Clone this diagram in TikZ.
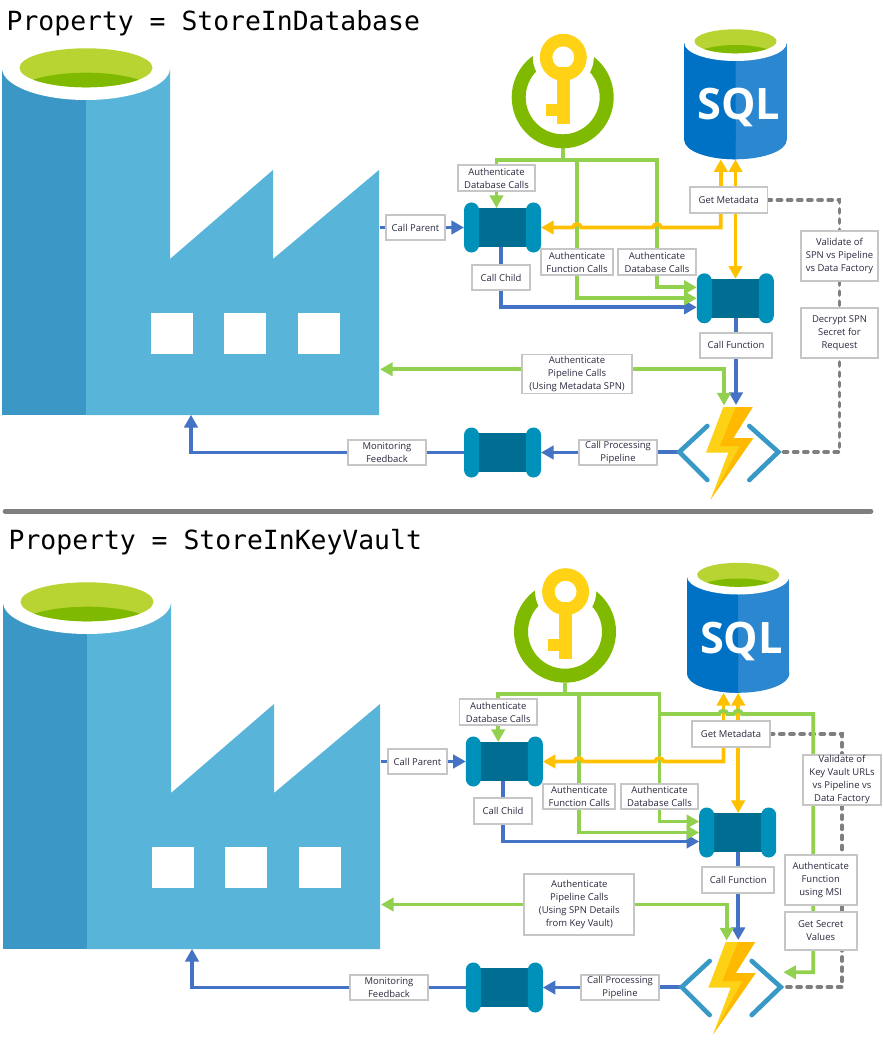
\documentclass[tikz,border=0pt]{standalone}
\usepackage{fontspec}
\usepackage{xcolor}
\setmainfont{Open Sans}
\newfontfamily\headfont{DejaVu Sans Mono}
\usetikzlibrary{arrows.meta, calc, backgrounds}
\definecolor{FactoryDark}{HTML}{3A97C6}
\definecolor{FactoryLight}{HTML}{59B4D9}
\definecolor{LeafDark}{HTML}{7FBA00}
\definecolor{LeafLight}{HTML}{B8D432}
\definecolor{KeyYellow}{HTML}{FFD216}
\definecolor{SqlDark}{HTML}{0072C6}
\definecolor{SqlLight}{HTML}{2B88D0}
\definecolor{PipeCap}{HTML}{0091BB}
\definecolor{PipeCore}{HTML}{006E92}
\definecolor{BoltLight}{HTML}{FCD116}
\definecolor{BoltDark}{HTML}{FFB900}
\definecolor{BracketBlue}{HTML}{3999C6}
\definecolor{LineGreen}{HTML}{92D050}
\definecolor{LineBlue}{HTML}{4472C4}
\definecolor{LineOrange}{HTML}{FFC000}
\definecolor{LineGray}{HTML}{7F7F7F}
\definecolor{LabelEdge}{HTML}{C6C6C6}
\definecolor{LabelText}{HTML}{2A2A40}
\tikzset{
    % Text boxes sitting on the connectors
    labelbox/.style={
        rectangle,
        draw=LabelEdge,
        fill=white,
        line width=1.3pt,
        inner sep=0pt,
        outer sep=0pt,
        minimum width=58pt,
        minimum height=19pt,
        align=center,
        text=LabelText,
        font=\fontsize{7.1}{9.75}\selectfont
    },
    label small/.style={labelbox, minimum width=44pt},
    label medium/.style={labelbox, minimum width=54pt},
    iconbox/.style={inner sep=0pt, outer sep=0pt},
    heading/.style={anchor=base west, font=\headfont\fontsize{19.8}{24}\selectfont},
    arrow blue/.style={-{Triangle[length=9.5pt,width=10pt]}, line width=2.8pt, LineBlue},
    arrow green/.style={-{Triangle[length=9.5pt,width=10pt]}, line width=2.8pt, LineGreen},
    arrow orange/.style={-{Triangle[length=9.5pt,width=10pt]}, line width=2.8pt, LineOrange},
    line blue/.style={line width=2.8pt, LineBlue},
    line green/.style={line width=2.8pt, LineGreen},
    line gray/.style={line width=2.8pt, LineGray, line cap=round, dash pattern=on 3pt off 4.6pt},
    % Icons
    factory/.pic={
        \node[iconbox, minimum width=283.5pt, minimum height=275pt] (-box) at (191,231.5) {};
        \fill[FactoryLight] (86,68) -- (170,68) -- (170,259) -- (273,170) -- (273,259)
            -- (379,170) -- (379,415) -- (86,415) -- cycle;
        \fill[FactoryDark] (2.3,68) rectangle (86,415);
        \fill[white] (86,68) ellipse[x radius=84, y radius=32];
        \fill[LeafLight] (86,67.8) ellipse[x radius=66.5, y radius=19.5];
        \begin{scope}
            \clip (86,67.8) ellipse[x radius=66.5, y radius=19.5];
            \fill[LeafDark] (86,96.7) ellipse[x radius=75, y radius=24];
        \end{scope}
        \foreach \winx in {151,224,298}
            \fill[white] (\winx,313) rectangle ++(42,41);
    },
    keyvault/.pic={
        \node[iconbox, minimum size=76.5pt] (-box) at (0,0) {};
        \fill[LeafDark, even odd rule] (0,0) circle[radius=51] (0,0) circle[radius=37];
        \fill[white] (0.6,-40) circle[radius=30.5];
        \fill[KeyYellow] (-6,-30) rectangle (7.3,27);
        \fill[KeyYellow] (-16.7,7) rectangle (-6,19);
        \fill[KeyYellow, even odd rule] (0.6,-40) circle[radius=23.5] (0.6,-40) circle[radius=11];
    },
    sqldb/.pic={
        \node[iconbox, minimum width=76.8pt, minimum height=89pt] (-box) at (0,0) {};
        \fill[SqlLight] (-51.2,-57) rectangle (51.2,40);
        \fill[SqlLight] (0,40) ellipse[x radius=51.2, y radius=19.3];
        \begin{scope}
            \clip (-60,-70) rectangle (0,70);
            \fill[SqlDark] (-51.2,-57) rectangle (51.2,40);
            \fill[SqlDark] (0,40) ellipse[x radius=51.2, y radius=19.3];
        \end{scope}
        \fill[white] (0,-57) ellipse[x radius=51.2, y radius=18];
        \fill[LeafLight] (0,-58.7) ellipse[x radius=41, y radius=12];
        \begin{scope}
            \clip (0,-58.7) ellipse[x radius=41, y radius=12];
            \fill[LeafDark] (0,-40) ellipse[x radius=46, y radius=15];
        \end{scope}
        \node[iconbox, anchor=base, text=white, font=\fontsize{32.5}{34}\selectfont\bfseries] (-name) at (3.3,20) {SQL};
    },
    pipe/.pic={
        \node[iconbox, minimum width=57.75pt, minimum height=37.5pt] (-box) at (0,0) {};
        \node[iconbox, fill=PipeCore, minimum width=40pt, minimum height=29.25pt] (-core) at (0,0) {};
        \fill[PipeCap, rounded corners=5.6pt] (-38.5,-25) rectangle (-23.5,25);
        \fill[PipeCap, rounded corners=5.6pt] (23.5,-25) rectangle (38.5,25);
    },
    funcapp/.pic={
        \node[iconbox, minimum width=74.25pt, minimum height=70.5pt] (-box) at (0,0) {};
        \draw[BracketBlue, line width=3.5pt, line cap=round, line join=miter] (-21.5,-26) -- (-49.5,0) -- (-21.5,28);
        \draw[BracketBlue, line width=3.5pt, line cap=round, line join=miter] (20.5,-26) -- (49.5,0) -- (20.5,28);
        \fill[BoltLight] (-5.5,-45) -- (23.9,-45) -- (4.5,-14) -- (24.5,-14) -- (-18.1,47.3) -- (-0.5,0.6) -- (-22.8,0.6) -- cycle;
        \fill[BoltDark] (6.9,-45) -- (23.9,-45) -- (4.5,-14) -- (24.5,-14) -- (-18.1,47.3) -- (11.2,-6) -- (-8.8,-6) -- cycle;
    }
}
\begin{document}
\begin{tikzpicture}[x=0.75pt, y=-0.75pt]
    \useasboundingbox (0,0) rectangle (882,1041);

    % Headings and divider
    \node[heading] (titleA) at (2,30.7) {Property = StoreInDatabase};
    \node[heading] (titleB) at (4,549.3) {Property = StoreInKeyVault};
    \coordinate (dividerL) at (5,511.3);
    \coordinate (dividerR) at (871,511.3);
    \draw[LineGray, line width=3.5pt, line cap=round] (dividerL) -- (dividerR);

    % Upper panel: icons
    \pic (factoryA) at (0,0) {factory};
    \pic (kvA) at (562.7,97.3) {keyvault};
    \pic (sqlA) at (735.5,100) {sqldb};
    \pic (parentpipeA) at (502.5,227.5) {pipe};
    \pic (childpipeA) at (735.3,298.3) {pipe};
    \pic (procpipeA) at (502.5,452.5) {pipe};
    \pic (funcA) at (728.8,452) {funcapp};

    % Upper panel: labels
    \node[labelbox] (authdbA) at (496.5,178) {Authenticate\\Database Calls};
    \node[label small] (parentA) at (415.5,227.5) {Call Parent};
    \node[labelbox] (metaA) at (728.7,200) {Get Metadata};
    \node[labelbox, minimum height=37.5pt] (validA) at (839.5,256) {Validate of\\SPN vs Pipeline\\vs Data Factory};
    \node[label medium] (authfnA) at (577,262) {Authenticate\\Function Calls};
    \node[labelbox] (authdbbA) at (657,262) {Authenticate\\Database Calls};
    \node[label small] (childA) at (501,277.5) {Call Child};
    \node[labelbox, minimum height=37.5pt] (decryptA) at (839.5,333) {Decrypt SPN\\Secret for\\Request};
    \node[label medium] (callfnA) at (736,345.3) {Call Function};
    \node[labelbox, minimum width=82.5pt, minimum height=29.25pt] (authpipeA) at (577,374) {Authenticate\\Pipeline Calls\\(Using Metadata SPN)};
    \node[labelbox] (procA) at (618,452.5) {Call Processing\\Pipeline};
    \node[labelbox] (monitorA) at (387,452.5) {Monitoring\\Feedback};

    % Lower panel: icons
    \pic (factoryB) at (1,534) {factory};
    \pic (kvB) at (565,631.7) {keyvault};
    \pic (sqlB) at (738.2,633.5) {sqldb};
    \pic (parentpipeB) at (504.3,761.5) {pipe};
    \pic (childpipeB) at (737.7,832.5) {pipe};
    \pic (procpipeB) at (504.3,987.5) {pipe};
    \pic (funcB) at (731.2,987) {funcapp};

    % Lower panel: labels
    \node[labelbox] (authdbB) at (498.2,712) {Authenticate\\Database Calls};
    \node[label small] (parentB) at (417.5,761.5) {Call Parent};
    \node[labelbox] (metaB) at (731,734) {Get Metadata};
    \node[labelbox, minimum height=37.5pt] (validB) at (842,780) {Validate of\\Key Vault URLs\\vs Pipeline vs\\Data Factory};
    \node[label medium] (authfnB) at (579.3,796.5) {Authenticate\\Function Calls};
    \node[labelbox] (authdbbB) at (659.5,796.5) {Authenticate\\Database Calls};
    \node[label small] (childB) at (503,811) {Call Child};
    \node[label medium, minimum height=37.5pt] (authmsiB) at (820.7,880) {Authenticate\\Function\\using MSI};
    \node[label medium, minimum height=28pt] (secretB) at (820.7,931) {Get Secret\\Values};
    \node[label medium] (callfnB) at (738.3,880) {Call Function};
    \node[labelbox, minimum width=82.5pt, minimum height=46pt] (authpipeB) at (579.3,904.5) {Authenticate\\Pipeline Calls\\(Using SPN Details\\from Key Vault)};
    \node[labelbox] (procB) at (620,987.5) {Call Processing\\Pipeline};
    \node[labelbox] (monitorB) at (389,987.5) {Monitoring\\Feedback};

    % Helper points for the connectors
    \coordinate (busA) at (562.7,160);
    \coordinate (getA) at ($(sqlA-box.south)+(-14.7,0)$);
    \coordinate (busB) at (565,694);
    \coordinate (getB) at ($(sqlB-box.south)+(-14.7,0)$);
    \coordinate (msiB) at (813.3,714);
    \coordinate (fnsideB) at (783.3,972.3);

    \begin{scope}[on background layer]
        % Upper panel: connectors
        \draw[line gray] (metaA.east) -| (validA.north);
        \draw[line gray] (validA.south) |- (funcA-box.east);

        \draw[line blue] (factoryA-box.east |- parentA.west) -- (parentA.west);
        \draw[arrow blue] (parentA.east) -- (parentpipeA-box.west);
        \draw[line blue] (childA.north |- parentpipeA-core.south) -- (childA.north);
        \draw[arrow blue] (childA.south) |- ($(childpipeA-box.west)+(0,9)$);
        \draw[line blue] (callfnA.north |- childpipeA-core.south) -- (callfnA.north);
        \draw[arrow blue] (callfnA.south) -- (callfnA.south |- funcA-box.north);
        \draw[line blue] (funcA-box.west) -- (procA.east |- funcA-box.west);
        \draw[arrow blue] (procA.west) -- (procpipeA-box.east);
        \draw[line blue] (procpipeA-box.west) -- (monitorA.east);
        \draw[arrow blue] (monitorA.west) -| (factoryA-box.south);

        \draw[line green] (kvA-box.south) -- (busA);
        \draw[line green] (busA) -| (authdbA.north);
        \draw[line green] (busA) -| (authfnA.north);
        \draw[line green] (busA) -| (authdbbA.north);
        \draw[arrow green] (authdbA.south) -- (authdbA.south |- parentpipeA-core.north);
        \draw[arrow green] (authfnA.south) |- (childpipeA-box.west);
        \draw[arrow green] (authdbbA.south) |- ($(childpipeA-box.west)+(0,-11)$);
        \draw[arrow green] (authpipeA.west |- 0,369.3) -- (factoryA-box.east |- 0,369.3);
        \draw[arrow green] (authpipeA.east |- 0,369.3) -| (724,405.5);

        \draw[arrow orange] (getA |- metaA.north) -- (getA);
        \draw[arrow orange] (sqlA-box.south |- metaA.north) -- (sqlA-box.south);
        \draw[arrow orange] (sqlA-box.south |- metaA.south) -- (sqlA-box.south |- childpipeA-core.north);
        \draw[arrow orange] (getA |- metaA.south) -- (getA |- parentpipeA-box.east)
            -- (661,227.5) .. controls (661,223) and (653,223) .. (653,227.5)
            -- (581,227.5) .. controls (581,223) and (573,223) .. (573,227.5)
            -- (parentpipeA-box.east);

        % Lower panel: connectors
        \draw[line gray] (metaB.east) -| (validB.north);
        \draw[line gray] (validB.south) |- (funcB-box.east);

        \draw[line blue] (factoryB-box.east |- parentB.west) -- (parentB.west);
        \draw[arrow blue] (parentB.east) -- (parentpipeB-box.west);
        \draw[line blue] (childB.north |- parentpipeB-core.south) -- (childB.north);
        \draw[arrow blue] (childB.south) |- ($(childpipeB-box.west)+(0,9)$);
        \draw[line blue] (callfnB.north |- childpipeB-core.south) -- (callfnB.north);
        \draw[arrow blue] (callfnB.south) -- (callfnB.south |- funcB-box.north);
        \draw[line blue] (funcB-box.west) -- (procB.east |- funcB-box.west);
        \draw[arrow blue] (procB.west) -- (procpipeB-box.east);
        \draw[line blue] (procpipeB-box.west) -- (monitorB.east);
        \draw[arrow blue] (monitorB.west) -| (factoryB-box.south);

        \draw[line green] (kvB-box.south) -- (busB);
        \draw[line green] (busB) -| (authdbB.north);
        \draw[line green] (busB) -| (authfnB.north);
        \draw[line green] (busB) -| (authdbbB.north);
        \draw[arrow green] (authdbB.south) -- (authdbB.south |- parentpipeB-core.north);
        \draw[arrow green] (authfnB.south) |- (childpipeB-box.west);
        \draw[arrow green] (authdbbB.south) |- ($(childpipeB-box.west)+(0,-11)$);
        \draw[arrow green] (authpipeB.west) -- (factoryB-box.east |- authpipeB.west);
        \draw[arrow green] (authpipeB.east) -| (726.7,940.5);

        \draw[arrow orange] (getB |- metaB.north) -- (getB);
        \draw[arrow orange] (sqlB-box.south |- metaB.north) -- (sqlB-box.south);
        \draw[arrow orange] (sqlB-box.south |- metaB.south) -- (sqlB-box.south |- childpipeB-core.north);
        \draw[arrow orange] (getB |- metaB.south) -- (getB |- parentpipeB-box.east)
            -- (663.3,761.5) .. controls (663.3,757) and (655.3,757) .. (655.3,761.5)
            -- (582.7,761.5) .. controls (582.7,757) and (574.7,757) .. (574.7,761.5)
            -- (parentpipeB-box.east);

        \draw[arrow green] (authdbbB.north |- msiB)
            -- (719.3,714) .. controls (719.3,709.5) and (727.3,709.5) .. (727.3,714)
            -- (734,714) .. controls (734,709.5) and (742,709.5) .. (742,714)
            -- (msiB) |- (fnsideB);
    \end{scope}
\end{tikzpicture}
\end{document}
